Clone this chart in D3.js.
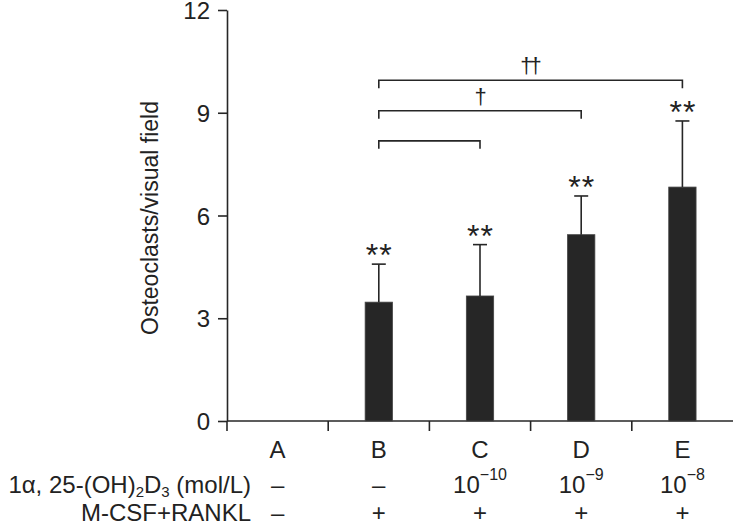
<!DOCTYPE html>
<html>
<head>
<meta charset="utf-8">
<script src="https://cdn.jsdelivr.net/npm/d3@7"></script>
<style>
  html, body { margin: 0; padding: 0; background: #fff; }
  svg { display: block; font-family: "Liberation Sans", Arial, Helvetica, sans-serif; }
</style>
</head>
<body>
<svg id="chart" width="733" height="525"></svg>
<script>
// ---- data ----
const categories = ["A", "B", "C", "D", "E"];
const means = [0, 3.47, 3.65, 5.44, 6.83];
const sds = [0, 1.11, 1.50, 1.13, 1.93];
const sigMarks = ["", "**", "**", "**", "**"];
const yTicks = [0, 3, 6, 9, 12];
const doseBase = ["–", "–", "10", "10", "10"];
const doseExp = ["", "", "−10", "−9", "−8"];
const mcsf = ["–", "+", "+", "+", "+"];
const bracketFrom = ["B", "B", "B"];
const bracketTo = ["C", "D", "E"];
const bracketLevel = [8.18, 9.06, 9.95];
const bracketLabel = ["", "†", "††"];
const yLabel = "Osteoclasts/visual field";

// ---- layout ----
const svg = d3.select("#chart");
const mLeft = 227, mRight = 733, mTop = 10, mBottom = 421;
const ink = "#262626";
const txt = "#222";
const fs = "24px";

const x = d3.scaleBand().domain(categories).range([mLeft, mRight]).padding(0);
const y = d3.scaleLinear().domain([0, 12]).range([mBottom, mTop]);
const barW = x.bandwidth() * 0.27;
const cx = c => x(c) + x.bandwidth() / 2;

// y axis
const yAxis = d3.axisLeft(y).tickValues(yTicks).tickSize(9).tickSizeOuter(0).tickPadding(8);
const gy = svg.append("g").attr("transform", `translate(${mLeft},0)`).call(yAxis);
gy.select(".domain").attr("stroke", ink).attr("stroke-width", 1.6);
gy.selectAll(".tick line").attr("stroke", ink).attr("stroke-width", 1.6);
gy.selectAll(".tick text").attr("fill", txt).style("font-size", fs)
  .attr("font-family", "Liberation Sans, Arial, sans-serif").attr("dy", "0.36em");

// x axis
svg.append("line").attr("x1", mLeft).attr("x2", mRight).attr("y1", y(0)).attr("y2", y(0))
  .attr("stroke", ink).attr("stroke-width", 1.6);
svg.selectAll(".xtick").data(categories).enter().append("line")
  .attr("x1", d => x(d)).attr("x2", d => x(d))
  .attr("y1", y(0)).attr("y2", y(0) + 10)
  .attr("stroke", ink).attr("stroke-width", 1.6);

// y label
svg.append("text")
  .attr("transform", `translate(158,218) rotate(-90)`)
  .attr("text-anchor", "middle")
  .attr("fill", txt)
  .style("font-size", "23px")
  .text(yLabel);

// bars
const data = categories.map((c, i) => ({ c, m: means[i], sd: sds[i], sig: sigMarks[i] }));
const withBar = data.filter(d => d.m > 0);

svg.selectAll(".bar").data(withBar).enter().append("rect")
  .attr("x", d => cx(d.c) - barW / 2)
  .attr("y", d => y(d.m))
  .attr("width", barW)
  .attr("height", d => y(0) - y(d.m))
  .attr("fill", ink)
  .attr("stroke", "#444").attr("stroke-width", 0.8);

// error bars (upper)
svg.selectAll(".err").data(withBar).enter().append("line")
  .attr("x1", d => cx(d.c)).attr("x2", d => cx(d.c))
  .attr("y1", d => y(d.m)).attr("y2", d => y(d.m + d.sd))
  .attr("stroke", ink).attr("stroke-width", 1.6);
svg.selectAll(".cap").data(withBar).enter().append("line")
  .attr("x1", d => cx(d.c) - 7).attr("x2", d => cx(d.c) + 7)
  .attr("y1", d => y(d.m + d.sd)).attr("y2", d => y(d.m + d.sd))
  .attr("stroke", ink).attr("stroke-width", 1.6);

// significance stars
svg.selectAll(".sig").data(withBar).enter().append("text")
  .attr("x", d => cx(d.c) + 0.5)
  .attr("y", d => y(d.m + d.sd) + 2)
  .attr("text-anchor", "middle")
  .attr("fill", txt)
  .style("font-size", "32px")
  .style("letter-spacing", "1px")
  .text(d => d.sig);

// brackets
const brackets = bracketFrom.map((f, i) => ({ f, t: bracketTo[i], v: bracketLevel[i], lab: bracketLabel[i] }));
svg.selectAll(".br").data(brackets).enter().append("path")
  .attr("d", d => {
    const x1 = cx(d.f), x2 = cx(d.t), yy = y(d.v);
    return `M${x1},${yy + 8}V${yy}H${x2}V${yy + 8}`;
  })
  .attr("fill", "none").attr("stroke", ink).attr("stroke-width", 1.6);
svg.selectAll(".brl").data(brackets).enter().append("text")
  .attr("x", d => (cx(d.f) + cx(d.t)) / 2 - 1)
  .attr("y", d => y(d.v) - 7)
  .attr("text-anchor", "middle")
  .attr("fill", txt)
  .style("font-size", "22px")
  .style("letter-spacing", "-3px")
  .text(d => d.lab);

// category labels
svg.selectAll(".cat").data(categories).enter().append("text")
  .attr("x", d => cx(d)).attr("y", 458)
  .attr("text-anchor", "middle").attr("fill", txt)
  .style("font-size", fs)
  .text(d => d);

// dose row
const doseLab = svg.append("text").attr("x", 251).attr("y", 493)
  .attr("text-anchor", "end").attr("fill", txt).style("font-size", fs);
doseLab.append("tspan").text("1α, 25-(OH)");
doseLab.append("tspan").text("2").style("font-size", "15px").attr("dy", 4);
doseLab.append("tspan").text("D").attr("dy", -4);
doseLab.append("tspan").text("3").style("font-size", "15px").attr("dy", 4);
doseLab.append("tspan").text(" (mol/L)").attr("dy", -4);

categories.forEach((c, i) => {
  const t = svg.append("text").attr("x", cx(c)).attr("y", 493)
    .attr("text-anchor", "middle").attr("fill", txt).style("font-size", fs);
  t.append("tspan").text(doseBase[i]);
  if (doseExp[i]) t.append("tspan").text(doseExp[i]).style("font-size", "16px").attr("dy", -13);
});

// M-CSF row
svg.append("text").attr("x", 251).attr("y", 521)
  .attr("text-anchor", "end").attr("fill", txt).style("font-size", fs)
  .text("M-CSF+RANKL");
svg.selectAll(".mc").data(categories).enter().append("text")
  .attr("x", d => cx(d)).attr("y", 521)
  .attr("text-anchor", "middle").attr("fill", txt)
  .style("font-size", fs)
  .text((d, i) => mcsf[i]);
</script>
</body>
</html>
